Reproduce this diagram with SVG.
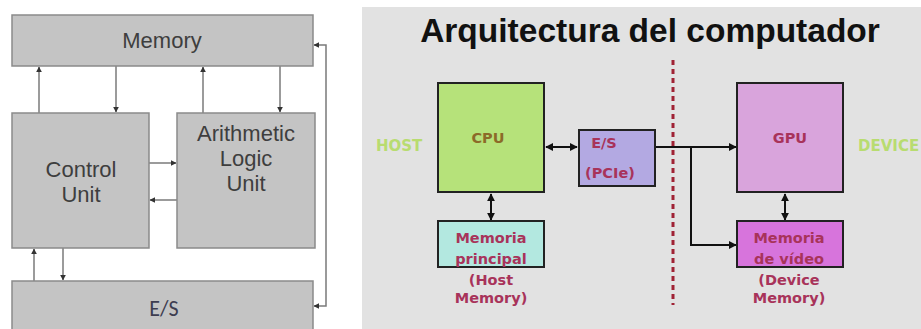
<svg xmlns="http://www.w3.org/2000/svg" width="921" height="329" viewBox="0 0 921 329">
<style>
.gb{fill:#c4c4c4;stroke:#8a8a8a;stroke-width:1.5}
.gt{font-family:"Liberation Sans",Arial,sans-serif;font-size:22px;fill:#3e3e3e;text-anchor:middle}
.ln{stroke:#7a7a7a;stroke-width:1.5;fill:none}
.bk{stroke:#111;stroke-width:2;fill:none}
.bx{stroke:#222;stroke-width:2}
.pt{font-family:"DejaVu Sans",Verdana,sans-serif;font-size:14.5px;font-weight:bold;fill:#a8335a;text-anchor:middle}
.side{font-family:"DejaVu Sans",Verdana,sans-serif;font-size:15px;font-weight:bold;fill:#b8dc70}
</style>
<defs>
<marker id="ag" viewBox="0 0 10 10" refX="9" refY="5" markerWidth="4" markerHeight="4" orient="auto-start-reverse"><path d="M0,0 L10,5 L0,10 z" fill="#333"/></marker>
<marker id="ab" viewBox="0 0 10 10" refX="9" refY="5" markerWidth="4" markerHeight="4" orient="auto-start-reverse"><path d="M0,0 L10,5 L0,10 z" fill="#111"/></marker>
</defs>
<rect width="921" height="329" fill="#ffffff"/>
<rect x="362" y="7" width="559" height="322" fill="#e2e2e2"/>

<g id="connectors">
<line class="ln" x1="39" y1="113" x2="39" y2="67" marker-end="url(#ag)"/>
<line class="ln" x1="116" y1="66" x2="116" y2="112" marker-end="url(#ag)"/>
<line class="ln" x1="203" y1="113" x2="203" y2="67" marker-end="url(#ag)"/>
<line class="ln" x1="280" y1="66" x2="280" y2="112" marker-end="url(#ag)"/>
<line class="ln" x1="149" y1="163" x2="176" y2="163" marker-end="url(#ag)"/>
<line class="ln" x1="177" y1="200" x2="150" y2="200" marker-end="url(#ag)"/>
<line class="ln" x1="34" y1="281" x2="34" y2="249" marker-end="url(#ag)"/>
<line class="ln" x1="63" y1="248" x2="63" y2="280" marker-end="url(#ag)"/>
<polyline class="ln" points="314,45 326,45 326,306 314,306" marker-start="url(#ag)" marker-end="url(#ag)"/>

<line class="bk" x1="546" y1="147" x2="577" y2="147" marker-start="url(#ab)" marker-end="url(#ab)"/>
<line class="bk" x1="491" y1="194" x2="491" y2="220" marker-start="url(#ab)" marker-end="url(#ab)"/>
<line class="bk" x1="785" y1="194" x2="785" y2="220" marker-start="url(#ab)" marker-end="url(#ab)"/>
<line class="bk" x1="656" y1="147" x2="736" y2="147" marker-end="url(#ab)"/>
<polyline class="bk" points="691,147 691,245 736,245" marker-end="url(#ab)"/>
<line x1="673" y1="60" x2="673" y2="305" stroke="#a02235" stroke-width="3" stroke-dasharray="5,4"/>
</g>

<g id="memory"><rect class="gb" x="12" y="15" width="301" height="51"/><text class="gt" x="162" y="48">Memory</text></g>
<g id="control-unit"><rect class="gb" x="12" y="113" width="137" height="135"/><text class="gt" x="81" y="177">Control</text><text class="gt" x="81" y="202">Unit</text></g>
<g id="alu"><rect class="gb" x="177" y="113" width="138" height="135"/><text class="gt" x="246" y="141">Arithmetic</text><text class="gt" x="246" y="166">Logic</text><text class="gt" x="246" y="191">Unit</text></g>
<g id="es-left"><rect class="gb" x="12" y="281" width="301" height="52"/><text x="164" y="316" font-family="Carlito,'Liberation Sans',sans-serif" font-size="22" fill="#3d3d50" text-anchor="middle">E/S</text></g>

<g id="title"><text x="650" y="42" font-family="'Liberation Sans',Arial,sans-serif" font-size="33.5" font-weight="bold" fill="#111" text-anchor="middle">Arquitectura del computador</text></g>
<g id="host"><text class="side" x="376" y="151">HOST</text></g>
<g id="device"><text class="side" x="858" y="151">DEVICE</text></g>

<g id="cpu"><rect class="bx" x="438" y="83" width="106" height="109" fill="#b6e27a"/><text class="pt" x="488" y="143" style="fill:#8c6a28">CPU</text></g>
<g id="es-pcie"><rect class="bx" x="579" y="130" width="76" height="56" fill="#b3a9e2"/><text class="pt" x="604" y="148">E/S</text><text class="pt" x="610" y="178">(PCIe)</text></g>
<g id="mem-principal"><rect class="bx" x="438" y="221" width="106" height="46" fill="#b3e8e0"/><text class="pt" x="491" y="243">Memoria</text><text class="pt" x="491" y="264">principal</text><text class="pt" x="491" y="285">(Host</text><text class="pt" x="491" y="303">Memory)</text></g>
<g id="gpu"><rect class="bx" x="737" y="83" width="106" height="109" fill="#d9a4dc"/><text class="pt" x="790" y="143">GPU</text></g>
<g id="mem-video"><rect class="bx" x="737" y="221" width="106" height="46" fill="#d774dc"/><text class="pt" x="789" y="243">Memoria</text><text class="pt" x="789" y="264">de vídeo</text><text class="pt" x="789" y="285">(Device</text><text class="pt" x="789" y="303">Memory)</text></g>
</svg>
